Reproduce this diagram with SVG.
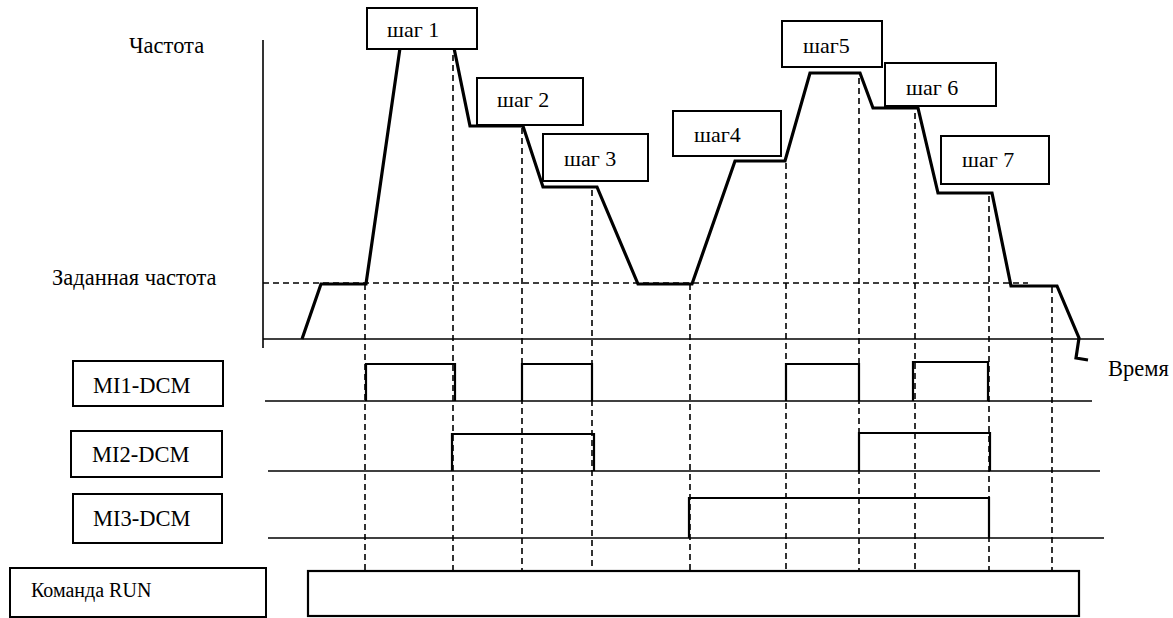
<svg xmlns="http://www.w3.org/2000/svg" width="1173" height="618" viewBox="0 0 1173 618">
<style>
text{font-family:"Liberation Serif","Times New Roman",serif;fill:#000}
.lbl{font-size:22.5px}
.step{font-size:22px}
.box{fill:#fff;stroke:#000;stroke-width:2}
.axis{fill:none;stroke:#000;stroke-width:1.6}
.dash{fill:none;stroke:#000;stroke-width:1.6;stroke-dasharray:6 4}
.curve{fill:none;stroke:#000;stroke-width:3.2;stroke-linejoin:miter}
.pulse{fill:none;stroke:#000;stroke-width:2.2}
</style>
<rect width="1173" height="618" fill="#fff"/>
<g id="connectors">
<g id="dashed">
<line class="dash" x1="263" y1="283" x2="1028" y2="283"/>
<line class="dash" x1="365" y1="284" x2="365" y2="571"/>
<line class="dash" x1="453" y1="55" x2="453" y2="571"/>
<line class="dash" x1="522" y1="128" x2="522" y2="571"/>
<line class="dash" x1="592" y1="190" x2="592" y2="571"/>
<line class="dash" x1="690" y1="284" x2="690" y2="571"/>
<line class="dash" x1="786" y1="163" x2="786" y2="571"/>
<line class="dash" x1="859" y1="78" x2="859" y2="571"/>
<line class="dash" x1="915" y1="113" x2="915" y2="571"/>
<line class="dash" x1="989" y1="196" x2="989" y2="571"/>
<line class="dash" x1="1052" y1="287" x2="1052" y2="571"/>
</g>
<g id="axes">
<line class="axis" x1="263" y1="40" x2="263" y2="348"/>
<line class="axis" x1="263" y1="339" x2="1104" y2="339"/>
<line class="axis" x1="265" y1="401" x2="1092" y2="401"/>
<line class="axis" x1="268" y1="471" x2="1100" y2="471"/>
<line class="axis" x1="268" y1="538" x2="1104" y2="538"/>
</g>
<path id="frequency-curve" class="curve" d="M302,339 L321,284 L366,284 L400,48 L454,48 L470,126 L523,126 L543,187 L597,187 L638,284 L692,284 L735,161 L785,161 L810,73 L860,73 L873,108 L918,108 L938,193 L992,193 L1011,286 L1057,286 L1079,338 L1076,358 L1088,360"/>
<g id="pulses">
<path class="pulse" d="M366,401 V364 H455 V401"/>
<path class="pulse" d="M522,401 V364 H592 V401"/>
<path class="pulse" d="M786,401 V364 H859 V401"/>
<path class="pulse" d="M913,401 V362 H988 V401"/>
<path class="pulse" d="M452,471 V434 H594 V471"/>
<path class="pulse" d="M859,471 V433 H990 V471"/>
<path class="pulse" d="M689,538 V498 H989 V538"/>
<rect class="pulse" x="308" y="571" width="771" height="45"/>
</g>
</g>
<g id="step1"><rect class="box" x="367" y="8" width="110" height="41"/><text class="step" x="387" y="37">шаг  1</text></g>
<g id="step2"><rect class="box" x="477" y="78" width="106" height="47"/><text class="step" x="497" y="107">шаг 2</text></g>
<g id="step3"><rect class="box" x="543" y="134" width="105" height="47"/><text class="step" x="564" y="166">шаг 3</text></g>
<g id="step4"><rect class="box" x="673" y="111" width="108" height="45"/><text class="step" x="694" y="142">шаг4</text></g>
<g id="step5"><rect class="box" x="782" y="21" width="100" height="46"/><text class="step" x="803" y="53">шаг5</text></g>
<g id="step6"><rect class="box" x="885" y="63" width="111" height="43"/><text class="step" x="906" y="95">шаг 6</text></g>
<g id="step7"><rect class="box" x="941" y="136" width="108" height="48"/><text class="step" x="962" y="167">шаг 7</text></g>
<g id="label-freq"><text class="lbl" x="129" y="53">Частота</text></g>
<g id="label-setfreq"><text class="lbl" x="52" y="285">Заданная частота</text></g>
<g id="label-time"><text class="lbl" x="1108" y="376">Время</text></g>
<g id="mi1"><rect class="box" x="73" y="361" width="150" height="45"/><text class="lbl" x="93" y="393">MI1-DCM</text></g>
<g id="mi2"><rect class="box" x="71" y="431" width="151" height="46"/><text class="lbl" x="92" y="462">MI2-DCM</text></g>
<g id="mi3"><rect class="box" x="73" y="494" width="149" height="49"/><text class="lbl" x="93" y="526">MI3-DCM</text></g>
<g id="run"><rect class="box" x="10" y="568" width="256" height="49"/><text style="font-size:20px" x="31" y="597">Команда RUN</text></g>
</svg>
